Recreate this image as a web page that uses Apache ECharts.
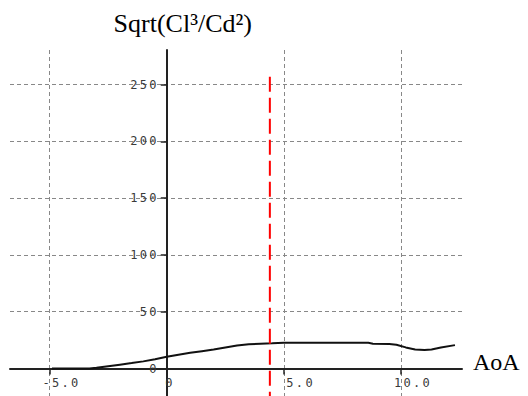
<!DOCTYPE html>
<html><head><meta charset="utf-8">
<script src="https://cdn.jsdelivr.net/npm/echarts@6/dist/echarts.min.js"></script>
<style>
html,body{margin:0;padding:0;background:#fff;}
#chart{width:528px;height:396px;}
#chart text[style*="DejaVu Sans Mono"]{letter-spacing:2.3px;}
</style></head><body><div id="chart"></div>
<script>
// Angle of attack (deg)
const aoa = [-4.9, -4, -3.3, -3, -2.5, -2, -1.5, -1, -0.5, 0, 0.5, 1, 1.5, 2, 2.5, 3, 3.5, 4, 4.5, 5, 6, 7, 8, 8.6, 8.8, 9.5, 9.8, 10.2, 10.6, 11, 11.3, 11.7, 12.3];
// Sqrt(Cl^3/Cd^2)
const sqrtClCd = [0, 0, 0.1, 0.6, 2, 3.4, 4.8, 6.3, 8.2, 10.3, 12.2, 13.8, 15.3, 16.7, 18.5, 20.2, 21.3, 21.8, 22.2, 22.8, 22.8, 22.8, 22.8, 22.6, 21.8, 21.5, 21.0, 18.6, 16.8, 16.4, 16.7, 18.5, 20.6];
// marker (red dashed) line
const markerAoA = [4.4, 4.4];
const markerVal = [257, -24.2];
// tick labels
const xTickValues = [-5, 0, 5, 10];
const yTickValues = [0, 50, 100, 150, 200, 250];
const xName = 'AoA';
const yName = 'Sqrt(Cl³/Cd²)';

const W = 528, H = 396;
const G = {left: 10, right: 66, top: 50, bottom: 0};
const X_MIN = -6.69, X_MAX = 12.6, Y_MIN = -24.2, Y_MAX = 280.5;
const gw = W - G.left - G.right, gh = H - G.top - G.bottom;
// axes cross at the origin: shift them from the grid edges
const yAxisOffset = -((0 - X_MIN) / (X_MAX - X_MIN)) * gw;
const xAxisOffset = -((0 - Y_MIN) / (Y_MAX - Y_MIN)) * gh;

const mono = 'DejaVu Sans Mono';
const lbl = '#3a3a3a';
const chart = echarts.init(document.getElementById('chart'), null, {renderer: 'svg'});
chart.setOption({
  animation: false,
  backgroundColor: '#fff',
  grid: Object.assign({containLabel: false, outerBoundsMode: 'none'}, G),
  xAxis: {
    type: 'value', min: X_MIN, max: X_MAX, position: 'bottom', offset: xAxisOffset,
    name: xName, nameLocation: 'end', nameGap: 11, nameMoveOverlap: false,
    nameTextStyle: {fontFamily: 'Liberation Serif', fontSize: 24, lineHeight: 14, color: '#000', align: 'left', verticalAlign: 'bottom'},
    axisLine: {onZero: false, lineStyle: {color: '#222', width: 2}},
    axisTick: {show: true, length: 6, customValues: xTickValues, lineStyle: {color: '#222', width: 1.5}},
    axisLabel: {
      customValues: xTickValues, margin: 8, align: 'center',
      fontFamily: mono, fontSize: 12, color: lbl,
      formatter: v => v === 0 ? '{z|0}' : '{n|' + v.toFixed(1) + '}',
      rich: {
        n: {width: 62, align: 'right', fontFamily: mono, fontSize: 12, color: lbl},
        z: {width: 16, align: 'right', fontFamily: mono, fontSize: 12, color: lbl}
      }
    },
    splitLine: {show: true, lineStyle: {color: '#888', width: 1, type: [4, 3]}}
  },
  yAxis: {
    type: 'value', min: Y_MIN, max: Y_MAX, position: 'left', offset: yAxisOffset,
    name: yName, nameLocation: 'end', nameGap: 14, nameMoveOverlap: false,
    nameTextStyle: {fontFamily: 'Liberation Serif', fontSize: 26, color: '#000', align: 'center', verticalAlign: 'bottom', padding: [0, 0, 0, 32]},
    axisLine: {onZero: false, lineStyle: {color: '#222', width: 2}},
    axisTick: {show: true, length: 6, customValues: yTickValues, lineStyle: {color: '#222', width: 1.5}},
    axisLabel: {customValues: yTickValues, margin: 8, fontFamily: mono, fontSize: 12, color: lbl, formatter: v => String(v)},
    splitLine: {show: true, lineStyle: {color: '#888', width: 1, type: [4, 3]}}
  },
  series: [
    {type: 'line', data: aoa.map((a, i) => [a, sqrtClCd[i]]), symbol: 'none', lineStyle: {color: '#111', width: 2}, z: 3},
    {type: 'line', data: markerAoA.map((a, i) => [a, markerVal[i]]), symbol: 'none', lineStyle: {color: '#ff0000', width: 2, type: [15, 6]}, z: 4}
  ]
});
</script></body></html>
